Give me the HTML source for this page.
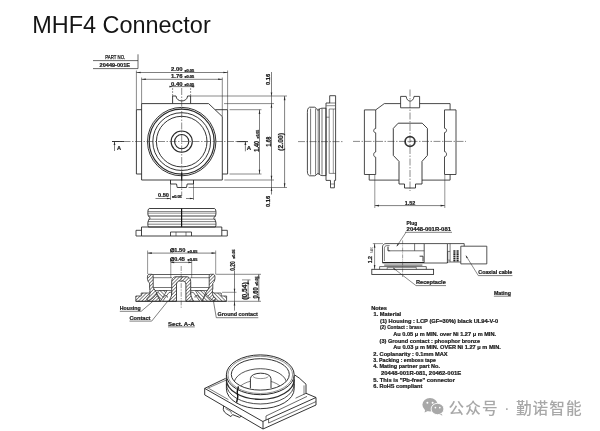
<!DOCTYPE html>
<html><head><meta charset="utf-8"><title>MHF4 Connector</title>
<style>
html,body{margin:0;padding:0;background:#fff;}
body{width:600px;height:431px;overflow:hidden;}
svg{display:block;font-family:"Liberation Sans",sans-serif;will-change:transform;}
</style></head><body>
<svg width="600" height="431" viewBox="0 0 600 431">
<rect width="600" height="431" fill="#fff"/>
<text x="32.2" y="32.8" font-size="24" fill="#151515" textLength="178.5" lengthAdjust="spacingAndGlyphs" font-weight="normal">MHF4 Connector</text>
<text x="105.3" y="59.2" font-size="5.2" font-weight="normal" fill="#1c1c1c" textLength="20" lengthAdjust="spacingAndGlyphs" stroke="#1c1c1c" stroke-width="0.25">PART NO.</text>
<line x1="93" y1="60.6" x2="138" y2="60.6" stroke="#2a2a2a" stroke-width="0.7"/>
<text x="99.6" y="67.2" font-size="5.4" font-weight="bold" fill="#1c1c1c" textLength="30.4" lengthAdjust="spacingAndGlyphs" stroke="#1c1c1c" stroke-width="0.22">20449-001E</text>
<line x1="93" y1="68.6" x2="138" y2="68.6" stroke="#2a2a2a" stroke-width="0.7"/>
<line x1="138" y1="54.3" x2="138" y2="68.6" stroke="#2a2a2a" stroke-width="0.7"/>
<line x1="136.4" y1="72.5" x2="227.6" y2="72.5" stroke="#2a2a2a" stroke-width="0.6"/>
<path d="M136.40 72.50L140.60 71.70L140.60 73.30Z" fill="#2a2a2a"/>
<path d="M227.60 72.50L223.40 73.30L223.40 71.70Z" fill="#2a2a2a"/>
<text x="171" y="71.2" font-size="5.6" font-weight="bold" fill="#1c1c1c" textLength="11.5" lengthAdjust="spacingAndGlyphs" stroke="#1c1c1c" stroke-width="0.22">2.00</text>
<text x="184.4" y="71.6" font-size="3.3" font-weight="bold" fill="#1c1c1c" textLength="9.8" lengthAdjust="spacingAndGlyphs" stroke="#1c1c1c" stroke-width="0.22">±0.05</text>
<line x1="141.6" y1="79.3" x2="222.3" y2="79.3" stroke="#2a2a2a" stroke-width="0.6"/>
<path d="M141.60 79.30L145.80 78.50L145.80 80.10Z" fill="#2a2a2a"/>
<path d="M222.30 79.30L218.10 80.10L218.10 78.50Z" fill="#2a2a2a"/>
<text x="171" y="78.2" font-size="5.6" font-weight="bold" fill="#1c1c1c" textLength="11.5" lengthAdjust="spacingAndGlyphs" stroke="#1c1c1c" stroke-width="0.22">1.76</text>
<text x="184.4" y="78.4" font-size="3.3" font-weight="bold" fill="#1c1c1c" textLength="9.8" lengthAdjust="spacingAndGlyphs" stroke="#1c1c1c" stroke-width="0.22">±0.05</text>
<line x1="170" y1="86.6" x2="194.5" y2="86.6" stroke="#2a2a2a" stroke-width="0.6"/>
<path d="M172.60 86.60L169.40 87.40L169.40 85.80Z" fill="#2a2a2a"/>
<path d="M190.60 86.60L193.80 85.80L193.80 87.40Z" fill="#2a2a2a"/>
<text x="171" y="86" font-size="5.6" font-weight="bold" fill="#1c1c1c" textLength="11.5" lengthAdjust="spacingAndGlyphs" stroke="#1c1c1c" stroke-width="0.22">0.40</text>
<text x="184.4" y="86.2" font-size="3.3" font-weight="bold" fill="#1c1c1c" textLength="9.8" lengthAdjust="spacingAndGlyphs" stroke="#1c1c1c" stroke-width="0.22">±0.05</text>
<line x1="136.4" y1="70.5" x2="136.4" y2="109.6" stroke="#2a2a2a" stroke-width="0.55"/>
<line x1="227.6" y1="70.5" x2="227.6" y2="109.6" stroke="#2a2a2a" stroke-width="0.55"/>
<line x1="141.6" y1="77.5" x2="141.6" y2="103.6" stroke="#2a2a2a" stroke-width="0.55"/>
<line x1="222.3" y1="77.5" x2="222.3" y2="116.6" stroke="#2a2a2a" stroke-width="0.55"/>
<line x1="172.6" y1="88" x2="172.6" y2="96" stroke="#2a2a2a" stroke-width="0.5" stroke-dasharray="2 1"/>
<line x1="190.6" y1="88" x2="190.6" y2="96" stroke="#2a2a2a" stroke-width="0.5" stroke-dasharray="2 1"/>
<path d="M141.6 103.6H208.6L222.3 116.6V180H141.6Z" stroke="#2a2a2a" stroke-width="0.9" fill="none" stroke-linejoin="round"/>
<path d="M141.6 109.7H136.4V174H141.6" stroke="#2a2a2a" stroke-width="0.9" fill="none" stroke-linejoin="round"/>
<path d="M215.3 109.7H227.6V174H222.3" stroke="#2a2a2a" stroke-width="0.9" fill="none" stroke-linejoin="round"/>
<path d="M172.6 103.6V96H176C176.4 102.6 187.2 102.6 187.6 96H190.6V103.6" stroke="#2a2a2a" stroke-width="0.9" fill="none" stroke-linejoin="round"/>
<path d="M170.5 180V184H176.5L177.2 187.5H186.5L187.2 184H193.5V180" stroke="#2a2a2a" stroke-width="0.9" fill="none" stroke-linejoin="round"/>
<circle cx="181.7" cy="141.6" r="34.2" stroke="#2a2a2a" stroke-width="0.95" fill="none"/>
<circle cx="181.7" cy="141.6" r="32.5" stroke="#2a2a2a" stroke-width="1.2" fill="none"/>
<circle cx="181.7" cy="141.6" r="28.9" stroke="#2a2a2a" stroke-width="0.95" fill="none"/>
<circle cx="181.7" cy="141.6" r="25.3" stroke="#2a2a2a" stroke-width="0.95" fill="none"/>
<circle cx="181.7" cy="141.6" r="10.6" stroke="#2a2a2a" stroke-width="1.15" fill="none"/>
<circle cx="181.7" cy="141.6" r="7.1" stroke="#2a2a2a" stroke-width="1.15" fill="none"/>
<line x1="112" y1="141.5" x2="247" y2="141.5" stroke="#2a2a2a" stroke-width="0.55" stroke-dasharray="7 1.5 1.5 1.5"/>
<line x1="181.7" y1="88" x2="181.7" y2="196" stroke="#2a2a2a" stroke-width="0.55" stroke-dasharray="7 1.5 1.5 1.5"/>
<line x1="181.7" y1="172.5" x2="181.7" y2="180.5" stroke="#111" stroke-width="1.2"/>
<line x1="112" y1="141.5" x2="124" y2="141.5" stroke="#2a2a2a" stroke-width="0.9"/>
<line x1="114.5" y1="141.5" x2="114.5" y2="151" stroke="#2a2a2a" stroke-width="0.6"/>
<path d="M114.50 141.50L115.40 145.10L113.60 145.10Z" fill="#2a2a2a"/>
<text x="117" y="150.3" font-size="5.6" font-weight="bold" fill="#1c1c1c" stroke="#1c1c1c" stroke-width="0.22">A</text>
<line x1="237" y1="141.6" x2="248" y2="141.6" stroke="#2a2a2a" stroke-width="0.9"/>
<line x1="245.4" y1="141.5" x2="245.4" y2="151.3" stroke="#2a2a2a" stroke-width="0.6"/>
<path d="M245.40 141.50L246.30 145.10L244.50 145.10Z" fill="#2a2a2a"/>
<text x="246.8" y="150.4" font-size="6" font-weight="bold" fill="#1c1c1c" stroke="#1c1c1c" stroke-width="0.22">A</text>
<line x1="170.5" y1="180" x2="170.5" y2="200" stroke="#2a2a2a" stroke-width="0.5"/>
<line x1="193.5" y1="180" x2="193.5" y2="200" stroke="#2a2a2a" stroke-width="0.5"/>
<line x1="155.5" y1="198.5" x2="170.5" y2="198.5" stroke="#2a2a2a" stroke-width="0.6"/>
<line x1="186" y1="198.5" x2="193.5" y2="198.5" stroke="#2a2a2a" stroke-width="0.6"/>
<path d="M193.50 198.50L189.90 199.30L189.90 197.70Z" fill="#2a2a2a"/>
<path d="M170.50 198.50L166.90 199.30L166.90 197.70Z" fill="#2a2a2a"/>
<text x="158" y="197.3" font-size="5.6" font-weight="bold" fill="#1c1c1c" textLength="11" lengthAdjust="spacingAndGlyphs" stroke="#1c1c1c" stroke-width="0.22">0.50</text>
<text x="172" y="198.2" font-size="3.3" font-weight="bold" fill="#1c1c1c" textLength="9.8" lengthAdjust="spacingAndGlyphs" stroke="#1c1c1c" stroke-width="0.22">±0.05</text>
<line x1="190.6" y1="96" x2="287" y2="96" stroke="#2a2a2a" stroke-width="0.55"/>
<line x1="224" y1="103.6" x2="274" y2="103.6" stroke="#2a2a2a" stroke-width="0.55"/>
<line x1="229.5" y1="109.7" x2="261.5" y2="109.7" stroke="#2a2a2a" stroke-width="0.55"/>
<line x1="229.5" y1="174" x2="261.5" y2="174" stroke="#2a2a2a" stroke-width="0.55"/>
<line x1="224.3" y1="180" x2="274" y2="180" stroke="#2a2a2a" stroke-width="0.55"/>
<line x1="188.5" y1="187.5" x2="287" y2="187.5" stroke="#2a2a2a" stroke-width="0.55"/>
<line x1="259.5" y1="109.7" x2="259.5" y2="174" stroke="#2a2a2a" stroke-width="0.6"/>
<path d="M259.50 109.70L260.30 113.90L258.70 113.90Z" fill="#2a2a2a"/>
<path d="M259.50 174.00L258.70 169.80L260.30 169.80Z" fill="#2a2a2a"/>
<text x="258.9" y="146.3" font-size="6.3" font-weight="bold" fill="#1c1c1c" text-anchor="middle" textLength="10.8" lengthAdjust="spacingAndGlyphs" transform="rotate(-90 258.9 146.3)" stroke="#1c1c1c" stroke-width="0.22">1.40</text>
<text x="258.6" y="134.2" font-size="3.3" font-weight="bold" fill="#1c1c1c" text-anchor="middle" textLength="8.6" lengthAdjust="spacingAndGlyphs" transform="rotate(-90 258.6 134.2)" stroke="#1c1c1c" stroke-width="0.22">±0.05</text>
<line x1="271.5" y1="72" x2="271.5" y2="194.5" stroke="#2a2a2a" stroke-width="0.6"/>
<path d="M271.50 103.60L272.30 107.80L270.70 107.80Z" fill="#2a2a2a"/>
<path d="M271.50 180.00L270.70 175.80L272.30 175.80Z" fill="#2a2a2a"/>
<path d="M271.50 96.00L270.70 92.40L272.30 92.40Z" fill="#2a2a2a"/>
<path d="M271.50 187.50L272.30 191.10L270.70 191.10Z" fill="#2a2a2a"/>
<text x="270.6" y="141.5" font-size="6.6" font-weight="bold" fill="#1c1c1c" text-anchor="middle" textLength="9.8" lengthAdjust="spacingAndGlyphs" transform="rotate(-90 270.6 141.5)" stroke="#1c1c1c" stroke-width="0.22">1.68</text>
<line x1="284.6" y1="96" x2="284.6" y2="187.5" stroke="#2a2a2a" stroke-width="0.6"/>
<path d="M284.60 96.00L285.40 100.20L283.80 100.20Z" fill="#2a2a2a"/>
<path d="M284.60 187.50L283.80 183.30L285.40 183.30Z" fill="#2a2a2a"/>
<text x="283.3" y="141.9" font-size="6.5" font-weight="bold" fill="#1c1c1c" text-anchor="middle" textLength="17.6" lengthAdjust="spacingAndGlyphs" transform="rotate(-90 283.3 141.9)" stroke="#1c1c1c" stroke-width="0.22">(2.00)</text>
<text x="270" y="79.4" font-size="5.4" font-weight="bold" fill="#1c1c1c" text-anchor="middle" textLength="11.2" lengthAdjust="spacingAndGlyphs" transform="rotate(-90 270 79.4)" stroke="#1c1c1c" stroke-width="0.22">0.16</text>
<text x="270" y="201.5" font-size="5.4" font-weight="bold" fill="#1c1c1c" text-anchor="middle" textLength="11.2" lengthAdjust="spacingAndGlyphs" transform="rotate(-90 270 201.5)" stroke="#1c1c1c" stroke-width="0.22">0.16</text>
<path d="M149.2 208.5H214.6C216.4 209 216.4 216 214.8 216.7C213.4 217.6 213.4 218.6 214.6 219.4C216.2 220.6 216.4 225.4 215.4 227H148.4C147.4 225.4 147.6 220.6 149.2 219.4C150.4 218.6 150.4 217.6 149 216.7C147.4 216 147.4 209 149.2 208.5Z" stroke="#2a2a2a" stroke-width="0.9" fill="none" stroke-linejoin="round"/>
<line x1="148" y1="211.6" x2="215.8" y2="211.6" stroke="#2a2a2a" stroke-width="0.6"/>
<line x1="148" y1="213.2" x2="215.8" y2="213.2" stroke="#2a2a2a" stroke-width="0.5"/>
<line x1="148" y1="216" x2="215.8" y2="216" stroke="#2a2a2a" stroke-width="0.9"/>
<line x1="148" y1="219.2" x2="215.8" y2="219.2" stroke="#2a2a2a" stroke-width="0.6"/>
<line x1="148" y1="221.6" x2="215.8" y2="221.6" stroke="#2a2a2a" stroke-width="0.6"/>
<line x1="148" y1="224.2" x2="215.8" y2="224.2" stroke="#2a2a2a" stroke-width="0.6"/>
<line x1="181.6" y1="208.5" x2="181.6" y2="227" stroke="#111" stroke-width="1.2"/>
<path d="M141.5 227H221.8V236H141.5Z" stroke="#2a2a2a" stroke-width="0.9" fill="none" stroke-linejoin="round"/>
<path d="M141.5 230.3H136V236H141.5" stroke="#2a2a2a" stroke-width="0.85" fill="none" stroke-linejoin="round"/>
<path d="M221.8 230.3H227.3V236H221.8" stroke="#2a2a2a" stroke-width="0.85" fill="none" stroke-linejoin="round"/>
<path d="M170.5 236V232H191.5V236" stroke="#2a2a2a" stroke-width="0.85" fill="none" stroke-linejoin="round"/>
<line x1="176" y1="232" x2="176" y2="236" stroke="#2a2a2a" stroke-width="0.6"/>
<line x1="186" y1="232" x2="186" y2="236" stroke="#2a2a2a" stroke-width="0.6"/>
<path d="M309.6 107.2C307.4 108 307.4 110.6 307.4 112.6V170.4C307.4 172.6 307.4 175 309.6 175.8H314.6C315.8 175.6 316.4 174.8 317 174C317.8 173.2 318.4 173.4 319.2 174.2C320 175 321 175.6 322 175.6H326V108.2H322C321 108.2 320 108.6 319.2 109.4C318.4 110.2 317.8 110.4 317 109.6C316.4 108.6 315.8 107.4 314.6 107.2Z" stroke="#2a2a2a" stroke-width="0.85" fill="none" stroke-linejoin="round"/>
<line x1="310.6" y1="108.6" x2="310.6" y2="174.6" stroke="#2a2a2a" stroke-width="0.65"/>
<line x1="315.6" y1="108.6" x2="315.6" y2="174.6" stroke="#2a2a2a" stroke-width="0.65"/>
<line x1="318.2" y1="108.6" x2="318.2" y2="174.6" stroke="#2a2a2a" stroke-width="0.65"/>
<line x1="319.5" y1="108.6" x2="319.5" y2="174.6" stroke="#2a2a2a" stroke-width="0.65"/>
<line x1="322" y1="108.6" x2="322" y2="174.6" stroke="#2a2a2a" stroke-width="0.65"/>
<path d="M326 103H329.7V95.7H335.6V180.4H334.4V187.8H330.5V180.4H326Z" stroke="#2a2a2a" stroke-width="0.85" fill="none" stroke-linejoin="round"/>
<line x1="329.4" y1="103" x2="335.6" y2="103" stroke="#2a2a2a" stroke-width="0.6"/>
<line x1="326.3" y1="105.7" x2="335" y2="105.7" stroke="#2a2a2a" stroke-width="0.55"/>
<line x1="326" y1="117.2" x2="329.2" y2="117.2" stroke="#2a2a2a" stroke-width="0.55"/>
<line x1="329.2" y1="109" x2="329.2" y2="173.4" stroke="#2a2a2a" stroke-width="0.6"/>
<line x1="329.2" y1="109" x2="335.6" y2="109" stroke="#2a2a2a" stroke-width="0.55"/>
<line x1="333.3" y1="109" x2="333.3" y2="173.4" stroke="#2a2a2a" stroke-width="0.5"/>
<line x1="329.2" y1="173.4" x2="335.6" y2="173.4" stroke="#2a2a2a" stroke-width="0.55"/>
<line x1="330.5" y1="184" x2="334.4" y2="184" stroke="#2a2a2a" stroke-width="0.55"/>
<line x1="298" y1="141.6" x2="343" y2="141.6" stroke="#2a2a2a" stroke-width="0.55" stroke-dasharray="7 1.5 1.5 1.5"/>
<path d="M400.6 103.6H384.3L375.7 109.9" stroke="#2a2a2a" stroke-width="0.85" fill="none" stroke-linejoin="round"/>
<path d="M419.6 103.6H450.1V109.9" stroke="#2a2a2a" stroke-width="0.85" fill="none" stroke-linejoin="round"/>
<path d="M375.7 109.9H364.4V174.5H375.7V157.2C373 157 373 152.2 375.7 152V132.8C373 132.6 373 128.7 375.7 128.5Z" stroke="#2a2a2a" stroke-width="0.85" fill="none" stroke-linejoin="round"/>
<path d="M444.5 109.9H456V174.5H444.5V156.8C447.2 156.6 447.2 151.8 444.5 151.6V132.6C447.2 132.4 447.2 128.4 444.5 128.2Z" stroke="#2a2a2a" stroke-width="0.85" fill="none" stroke-linejoin="round"/>
<path d="M369.2 174.5V180.1H399" stroke="#2a2a2a" stroke-width="0.85" fill="none" stroke-linejoin="round"/>
<path d="M450.1 174.5V180.1H422" stroke="#2a2a2a" stroke-width="0.85" fill="none" stroke-linejoin="round"/>
<path d="M400.6 107.8V96.4H406.2C406.6 102.6 413.6 102.6 414 96.4H419.6V107.8Z" stroke="#2a2a2a" stroke-width="0.85" fill="none" stroke-linejoin="round"/>
<path d="M398.2 123.2H422.2L427.4 128.4V155.4L422 161.4V184H415.5V188H404.5V184H399V161.4L393.3 155.4V128.4Z" stroke="#2a2a2a" stroke-width="0.9" fill="none" stroke-linejoin="round"/>
<circle cx="410" cy="141.5" r="4.9" stroke="#333" stroke-width="1.7" fill="none"/>
<line x1="408.8" y1="142.20000000000002" x2="411.4" y2="140.8" stroke="#2a2a2a" stroke-width="0.6"/>
<line x1="353" y1="141.4" x2="466" y2="141.4" stroke="#2a2a2a" stroke-width="0.55" stroke-dasharray="7 1.5 1.5 1.5"/>
<line x1="410" y1="89.5" x2="410" y2="191" stroke="#2a2a2a" stroke-width="0.55" stroke-dasharray="7 1.5 1.5 1.5"/>
<line x1="374.8" y1="175" x2="374.8" y2="208" stroke="#2a2a2a" stroke-width="0.5"/>
<line x1="444.8" y1="175" x2="444.8" y2="208" stroke="#2a2a2a" stroke-width="0.5"/>
<line x1="374.8" y1="205.6" x2="444.8" y2="205.6" stroke="#2a2a2a" stroke-width="0.6"/>
<path d="M374.80 205.60L379.00 204.80L379.00 206.40Z" fill="#2a2a2a"/>
<path d="M444.80 205.60L440.60 206.40L440.60 204.80Z" fill="#2a2a2a"/>
<text x="404.8" y="205" font-size="5.8" font-weight="bold" fill="#1c1c1c" textLength="10.6" lengthAdjust="spacingAndGlyphs" stroke="#1c1c1c" stroke-width="0.22">1.52</text>
<defs><pattern id="h1" width="2.4" height="2.4" patternUnits="userSpaceOnUse" patternTransform="rotate(-45)"><rect width="2.4" height="2.4" fill="#fff"/><line x1="0" y1="1.2" x2="2.4" y2="1.2" stroke="#3a3a3a" stroke-width="0.6"/></pattern><pattern id="h2" width="2.6" height="2.6" patternUnits="userSpaceOnUse" patternTransform="rotate(45)"><rect width="2.6" height="2.6" fill="#fff"/><line x1="0" y1="1.3" x2="2.6" y2="1.3" stroke="#3a3a3a" stroke-width="0.6"/></pattern></defs>
<path d="M135.8 296H141.2V293H148.5L153.2 288.5L160.5 301.3H135.8Z" stroke="#2a2a2a" stroke-width="0.75" fill="url(#h1)" stroke-linejoin="round"/>
<path d="M148.6 274.3H152.2C153.4 274.7 153.2 276 153.2 277V287.6L156.8 293C155 296.4 152 300 147.5 300.8L146.8 298.6C149.6 297 150.8 292.8 149.6 288.8V283.2C147 281.5 146.8 275.2 148.6 274.3Z" stroke="#2a2a2a" stroke-width="0.8" fill="url(#h1)" stroke-linejoin="round"/>
<line x1="153.2" y1="287.5" x2="171.7" y2="287.5" stroke="#2a2a2a" stroke-width="0.65"/>
<line x1="155" y1="290.5" x2="171.7" y2="290.5" stroke="#2a2a2a" stroke-width="0.65"/>
<path d="M156.8 293L159 290.6H167L160.5 301.3Z" stroke="#2a2a2a" stroke-width="0.7" fill="url(#h2)" stroke-linejoin="round"/>
<path d="M162.5 301.3L169 292.5L171.7 292V296C171.4 298 170 299.6 169 301.3Z" stroke="#2a2a2a" stroke-width="0.7" fill="#fff" stroke-linejoin="round"/>
<path d="M163.4 297.6C164 295 167.6 294.6 167.4 297.6" stroke="#2a2a2a" stroke-width="0.8" fill="none" stroke-linejoin="round"/>
<path d="M226.6 296H221.2V293H213.9L209.2 288.5L201.9 301.3H226.6Z" stroke="#2a2a2a" stroke-width="0.75" fill="url(#h2)" stroke-linejoin="round"/>
<path d="M213.8 274.3H210.2C209.0 274.7 209.2 276 209.2 277V287.6L205.6 293C207.4 296.4 210.4 300 214.9 300.8L215.6 298.6C212.8 297 211.6 292.8 212.8 288.8V283.2C215.4 281.5 215.6 275.2 213.8 274.3Z" stroke="#2a2a2a" stroke-width="0.8" fill="url(#h1)" stroke-linejoin="round"/>
<line x1="209.2" y1="287.5" x2="190.7" y2="287.5" stroke="#2a2a2a" stroke-width="0.65"/>
<line x1="207.4" y1="290.5" x2="190.7" y2="290.5" stroke="#2a2a2a" stroke-width="0.65"/>
<path d="M205.6 293L203.4 290.6H195.4L201.9 301.3Z" stroke="#2a2a2a" stroke-width="0.7" fill="url(#h2)" stroke-linejoin="round"/>
<path d="M199.9 301.3L193.4 292.5L190.7 292V296C191.0 298 192.4 299.6 193.4 301.3Z" stroke="#2a2a2a" stroke-width="0.7" fill="#fff" stroke-linejoin="round"/>
<path d="M199.0 297.6C198.4 295 194.8 294.6 195.0 297.6" stroke="#2a2a2a" stroke-width="0.8" fill="none" stroke-linejoin="round"/>
<line x1="152.5" y1="274.5" x2="209.9" y2="274.5" stroke="#2a2a2a" stroke-width="0.75"/>
<line x1="153.2" y1="277.7" x2="172" y2="277.7" stroke="#2a2a2a" stroke-width="0.6"/>
<line x1="190.4" y1="277.7" x2="209.2" y2="277.7" stroke="#2a2a2a" stroke-width="0.6"/>
<path d="M175.2 276.8H187.2C189.8 277.2 190.7 279.4 190.7 281.6V294C190.7 296.4 192.4 298.6 193.4 301.3H185.9V284.2C185.7 282.2 184.4 281 183.0 281H179.4C178 281 176.7 282.2 176.5 284.2V301.3H169C170 298.6 171.7 296.4 171.7 294V281.6C171.7 279.4 172.6 277.2 175.2 276.8Z" stroke="#2a2a2a" stroke-width="0.85" fill="url(#h1)" stroke-linejoin="round"/>
<line x1="135.8" y1="301.3" x2="226.6" y2="301.3" stroke="#2a2a2a" stroke-width="0.85"/>
<line x1="181.2" y1="266" x2="181.2" y2="309" stroke="#2a2a2a" stroke-width="0.5" stroke-dasharray="5 1.2 1.2 1.2"/>
<line x1="147.6" y1="250.5" x2="147.6" y2="274" stroke="#2a2a2a" stroke-width="0.5"/>
<line x1="215.7" y1="250.5" x2="215.7" y2="274" stroke="#2a2a2a" stroke-width="0.5"/>
<line x1="147.6" y1="253.1" x2="215.7" y2="253.1" stroke="#2a2a2a" stroke-width="0.6"/>
<path d="M147.60 253.10L151.80 252.30L151.80 253.90Z" fill="#2a2a2a"/>
<path d="M215.70 253.10L211.50 253.90L211.50 252.30Z" fill="#2a2a2a"/>
<text x="170.1" y="251.9" font-size="5.4" font-weight="bold" fill="#1c1c1c" textLength="15.2" lengthAdjust="spacingAndGlyphs" stroke="#1c1c1c" stroke-width="0.22">∅1.50</text>
<text x="187.6" y="252.5" font-size="3.3" font-weight="bold" fill="#1c1c1c" textLength="9.8" lengthAdjust="spacingAndGlyphs" stroke="#1c1c1c" stroke-width="0.22">±0.05</text>
<line x1="170.8" y1="259.5" x2="170.8" y2="278" stroke="#2a2a2a" stroke-width="0.5"/>
<line x1="191.7" y1="259.5" x2="191.7" y2="278" stroke="#2a2a2a" stroke-width="0.5"/>
<line x1="170.8" y1="262.4" x2="191.8" y2="262.4" stroke="#2a2a2a" stroke-width="0.6"/>
<path d="M170.80 262.40L174.20 261.60L174.20 263.20Z" fill="#2a2a2a"/>
<path d="M191.80 262.40L188.40 263.20L188.40 261.60Z" fill="#2a2a2a"/>
<text x="170.1" y="261.4" font-size="5.4" font-weight="bold" fill="#1c1c1c" textLength="14.8" lengthAdjust="spacingAndGlyphs" stroke="#1c1c1c" stroke-width="0.22">∅0.45</text>
<text x="187.6" y="261.2" font-size="3.3" font-weight="bold" fill="#1c1c1c" textLength="9.8" lengthAdjust="spacingAndGlyphs" stroke="#1c1c1c" stroke-width="0.22">±0.05</text>
<line x1="215.5" y1="274.3" x2="261" y2="274.3" stroke="#2a2a2a" stroke-width="0.55"/>
<line x1="242" y1="279.9" x2="250.5" y2="279.9" stroke="#2a2a2a" stroke-width="0.5"/>
<line x1="222" y1="292.3" x2="236.5" y2="292.3" stroke="#2a2a2a" stroke-width="0.5"/>
<line x1="242" y1="297.6" x2="250.5" y2="297.6" stroke="#2a2a2a" stroke-width="0.5"/>
<line x1="227.5" y1="301.3" x2="261" y2="301.3" stroke="#2a2a2a" stroke-width="0.55"/>
<line x1="234.5" y1="270.6" x2="234.5" y2="310.6" stroke="#2a2a2a" stroke-width="0.6"/>
<path d="M234.50 292.30L233.70 288.70L235.30 288.70Z" fill="#2a2a2a"/>
<path d="M234.50 301.30L235.30 305.50L233.70 305.50Z" fill="#2a2a2a"/>
<text x="235.2" y="266" font-size="6.3" font-weight="bold" fill="#1c1c1c" text-anchor="middle" textLength="9.4" lengthAdjust="spacingAndGlyphs" transform="rotate(-90 235.2 266)" stroke="#1c1c1c" stroke-width="0.22">0.20</text>
<text x="234.6" y="254" font-size="3.3" font-weight="bold" fill="#1c1c1c" text-anchor="middle" textLength="9.4" lengthAdjust="spacingAndGlyphs" transform="rotate(-90 234.6 254)" stroke="#1c1c1c" stroke-width="0.22">±0.05</text>
<line x1="248.1" y1="279.9" x2="248.1" y2="297.6" stroke="#2a2a2a" stroke-width="0.6"/>
<path d="M248.10 279.90L248.90 284.10L247.30 284.10Z" fill="#2a2a2a"/>
<path d="M248.10 297.60L247.30 293.40L248.90 293.40Z" fill="#2a2a2a"/>
<text x="246.9" y="291" font-size="6.3" font-weight="bold" fill="#1c1c1c" text-anchor="middle" textLength="17.4" lengthAdjust="spacingAndGlyphs" transform="rotate(-90 246.9 291)" stroke="#1c1c1c" stroke-width="0.22">(0.54)</text>
<line x1="258.8" y1="274.3" x2="258.8" y2="301.3" stroke="#2a2a2a" stroke-width="0.6"/>
<path d="M258.80 274.30L259.60 278.50L258.00 278.50Z" fill="#2a2a2a"/>
<path d="M258.80 301.30L258.00 297.10L259.60 297.10Z" fill="#2a2a2a"/>
<text x="257.8" y="293" font-size="6.3" font-weight="bold" fill="#1c1c1c" text-anchor="middle" textLength="11.2" lengthAdjust="spacingAndGlyphs" transform="rotate(-90 257.8 293)" stroke="#1c1c1c" stroke-width="0.22">0.60</text>
<text x="257.6" y="281" font-size="3.3" font-weight="bold" fill="#1c1c1c" text-anchor="middle" textLength="9.4" lengthAdjust="spacingAndGlyphs" transform="rotate(-90 257.6 281)" stroke="#1c1c1c" stroke-width="0.22">±0.05</text>
<text x="119.8" y="309.8" font-size="5.8" font-weight="bold" fill="#1c1c1c" textLength="20.8" lengthAdjust="spacingAndGlyphs" stroke="#1c1c1c" stroke-width="0.22">Housing</text>
<line x1="119.8" y1="311.3" x2="141.2" y2="311.3" stroke="#2a2a2a" stroke-width="0.6"/>
<line x1="141.2" y1="311.3" x2="152.6" y2="301.6" stroke="#2a2a2a" stroke-width="0.6"/>
<text x="129.5" y="319.8" font-size="5.8" font-weight="bold" fill="#1c1c1c" textLength="21" lengthAdjust="spacingAndGlyphs" stroke="#1c1c1c" stroke-width="0.22">Contact</text>
<line x1="129.5" y1="321.1" x2="151.7" y2="321.1" stroke="#2a2a2a" stroke-width="0.6"/>
<line x1="151.7" y1="321.1" x2="168.4" y2="300.4" stroke="#2a2a2a" stroke-width="0.6"/>
<text x="217.5" y="316.4" font-size="5.7" font-weight="bold" fill="#1c1c1c" textLength="40.4" lengthAdjust="spacingAndGlyphs" stroke="#1c1c1c" stroke-width="0.22">Ground contact</text>
<line x1="216.3" y1="317.7" x2="258.3" y2="317.7" stroke="#2a2a2a" stroke-width="0.6"/>
<line x1="216.3" y1="317.7" x2="213.4" y2="300.8" stroke="#2a2a2a" stroke-width="0.6"/>
<text x="168" y="325.6" font-size="5.6" font-weight="bold" fill="#1c1c1c" textLength="26.6" lengthAdjust="spacingAndGlyphs" stroke="#1c1c1c" stroke-width="0.22">Sect. A-A</text>
<line x1="168" y1="326.9" x2="194.8" y2="326.9" stroke="#2a2a2a" stroke-width="0.6"/>
<text x="406.6" y="225.2" font-size="5.6" font-weight="bold" fill="#1c1c1c" textLength="10.6" lengthAdjust="spacingAndGlyphs" stroke="#1c1c1c" stroke-width="0.22">Plug</text>
<text x="406.6" y="231.2" font-size="5.4" font-weight="bold" fill="#1c1c1c" textLength="44.4" lengthAdjust="spacingAndGlyphs" stroke="#1c1c1c" stroke-width="0.22">20448-001R-081</text>
<line x1="405" y1="232.3" x2="452" y2="232.3" stroke="#2a2a2a" stroke-width="0.6"/>
<line x1="406" y1="232.3" x2="396.8" y2="246.2" stroke="#2a2a2a" stroke-width="0.55"/>
<path d="M396.60 246.60L397.67 243.71L398.84 244.49Z" fill="#2a2a2a"/>
<path d="M386 243.6H424.2V262.6H382.5V247C382.5 245 384 243.6 386 243.6Z" stroke="#2a2a2a" stroke-width="0.8" fill="none" stroke-linejoin="round"/>
<path d="M384.4 261V248.4C384.4 246.6 385.4 245.6 387 245.6H389.6" stroke="#2a2a2a" stroke-width="0.6" fill="none" stroke-linejoin="round"/>
<path d="M388 246.6V250.8H390.4" stroke="#2a2a2a" stroke-width="1.0" fill="none" stroke-linejoin="round"/>
<line x1="390.4" y1="250.8" x2="424.2" y2="250.8" stroke="#2a2a2a" stroke-width="0.65"/>
<line x1="414.6" y1="243.6" x2="414.6" y2="250.8" stroke="#2a2a2a" stroke-width="0.65"/>
<path d="M419.6 256.2H423V261.4" stroke="#2a2a2a" stroke-width="0.9" fill="none" stroke-linejoin="round"/>
<line x1="382.5" y1="262.7" x2="424.2" y2="262.7" stroke="#111" stroke-width="1.1"/>
<line x1="384.2" y1="265.1" x2="422.4" y2="265.1" stroke="#222" stroke-width="0.8"/>
<line x1="402.6" y1="240.4" x2="402.6" y2="277" stroke="#2a2a2a" stroke-width="0.45" stroke-dasharray="4 1 1 1"/>
<path d="M424.2 243.6H447.4V263H424.2" stroke="#2a2a2a" stroke-width="0.8" fill="none" stroke-linejoin="round"/>
<path d="M447.4 243.6H464.2V246.2" stroke="#2a2a2a" stroke-width="0.8" fill="none" stroke-linejoin="round"/>
<path d="M447.4 263V262H460.8" stroke="#2a2a2a" stroke-width="0.7" fill="none" stroke-linejoin="round"/>
<line x1="450.1" y1="243.6" x2="450.1" y2="262" stroke="#2a2a2a" stroke-width="0.6"/>
<path d="M450.1 251.4H447.8V260.2H450.1" stroke="#2a2a2a" stroke-width="0.6" fill="none" stroke-linejoin="round"/>
<line x1="454.4" y1="250.2" x2="454.4" y2="262" stroke="#222" stroke-width="2.1" stroke-dasharray="1.5 0.45"/>
<line x1="457.6" y1="250.2" x2="457.6" y2="262" stroke="#222" stroke-width="2.1" stroke-dasharray="1.5 0.45"/>
<path d="M460.8 246.2H486.8V263.9H460.8Z" stroke="#2a2a2a" stroke-width="0.8" fill="none" stroke-linejoin="round"/>
<path d="M379.6 269.3V266.6H426.3V269.3" stroke="#2a2a2a" stroke-width="0.7" fill="none" stroke-linejoin="round"/>
<path d="M387.2 269.3V267.4H416.3V269.3" stroke="#2a2a2a" stroke-width="0.55" fill="none" stroke-linejoin="round"/>
<rect x="371.8" y="269.3" width="61.8" height="5.1" stroke="#2a2a2a" stroke-width="0.85" fill="none"/>
<line x1="372.8" y1="243.6" x2="383" y2="243.6" stroke="#2a2a2a" stroke-width="0.5"/>
<line x1="374.6" y1="243.6" x2="374.6" y2="269.3" stroke="#2a2a2a" stroke-width="0.55"/>
<path d="M374.60 243.60L375.40 247.80L373.80 247.80Z" fill="#2a2a2a"/>
<path d="M374.60 269.30L373.80 265.10L375.40 265.10Z" fill="#2a2a2a"/>
<text x="372.4" y="259.6" font-size="5.6" font-weight="bold" fill="#1c1c1c" text-anchor="middle" textLength="7.4" lengthAdjust="spacingAndGlyphs" transform="rotate(-90 372.4 259.6)" stroke="#1c1c1c" stroke-width="0.22">1.2</text>
<text x="372.6" y="250" font-size="2.6" font-weight="normal" fill="#1c1c1c" text-anchor="middle" transform="rotate(-90 372.6 250)">MAX</text>
<text x="478.3" y="274.2" font-size="5.4" font-weight="bold" fill="#1c1c1c" textLength="34" lengthAdjust="spacingAndGlyphs" stroke="#1c1c1c" stroke-width="0.22">Coaxial cable</text>
<line x1="478.3" y1="275.6" x2="512.4" y2="275.6" stroke="#2a2a2a" stroke-width="0.6"/>
<line x1="478.3" y1="275.6" x2="466" y2="255.8" stroke="#2a2a2a" stroke-width="0.55"/>
<path d="M465.70 255.30L467.81 257.54L466.60 258.25Z" fill="#2a2a2a"/>
<text x="416" y="284.2" font-size="5.4" font-weight="bold" fill="#1c1c1c" textLength="29.8" lengthAdjust="spacingAndGlyphs" stroke="#1c1c1c" stroke-width="0.22">Receptacle</text>
<line x1="416" y1="285.6" x2="446" y2="285.6" stroke="#2a2a2a" stroke-width="0.6"/>
<line x1="416" y1="285.6" x2="393.2" y2="268" stroke="#2a2a2a" stroke-width="0.55"/>
<path d="M393.00 267.80L395.77 269.14L394.89 270.23Z" fill="#2a2a2a"/>
<text x="493.9" y="294.8" font-size="5.4" font-weight="bold" fill="#1c1c1c" textLength="17" lengthAdjust="spacingAndGlyphs" stroke="#1c1c1c" stroke-width="0.22">Mating</text>
<line x1="493.9" y1="296.2" x2="511" y2="296.2" stroke="#2a2a2a" stroke-width="0.6"/>
<text x="371.2" y="309.9" font-size="5.5" font-weight="bold" fill="#1c1c1c" textLength="15.8" lengthAdjust="spacingAndGlyphs" stroke="#1c1c1c" stroke-width="0.22">Notes</text>
<text x="373.6" y="316.2" font-size="5.5" font-weight="bold" fill="#1c1c1c" textLength="27.6" lengthAdjust="spacingAndGlyphs" stroke="#1c1c1c" stroke-width="0.22">1. Material</text>
<text x="380" y="322.8" font-size="5.5" font-weight="bold" fill="#1c1c1c" textLength="118.1" lengthAdjust="spacingAndGlyphs" stroke="#1c1c1c" stroke-width="0.22">(1) Housing : LCP (GF=30%) black UL94-V-0</text>
<text x="380" y="329.4" font-size="5.5" font-weight="bold" fill="#1c1c1c" textLength="41.9" lengthAdjust="spacingAndGlyphs" stroke="#1c1c1c" stroke-width="0.22">(2) Contact : brass</text>
<text x="393.3" y="336" font-size="5.5" font-weight="bold" fill="#1c1c1c" textLength="102.7" lengthAdjust="spacingAndGlyphs" stroke="#1c1c1c" stroke-width="0.22">Au 0.05 μ m MIN. over Ni 1.27 μ m MIN.</text>
<text x="379.6" y="342.5" font-size="5.5" font-weight="bold" fill="#1c1c1c" textLength="100.4" lengthAdjust="spacingAndGlyphs" stroke="#1c1c1c" stroke-width="0.22">(3) Ground contact : phosphor bronze</text>
<text x="393.3" y="349.4" font-size="5.5" font-weight="bold" fill="#1c1c1c" textLength="107.5" lengthAdjust="spacingAndGlyphs" stroke="#1c1c1c" stroke-width="0.22">Au 0.03 μ m MIN. OVER Ni 1.27 μ m MIN.</text>
<text x="373.3" y="356" font-size="5.5" font-weight="bold" fill="#1c1c1c" textLength="74.2" lengthAdjust="spacingAndGlyphs" stroke="#1c1c1c" stroke-width="0.22">2. Coplanarity : 0.1mm MAX</text>
<text x="373.3" y="362.3" font-size="5.5" font-weight="bold" fill="#1c1c1c" textLength="62.6" lengthAdjust="spacingAndGlyphs" stroke="#1c1c1c" stroke-width="0.22">3. Packing : emboss tape</text>
<text x="373.3" y="368.3" font-size="5.5" font-weight="bold" fill="#1c1c1c" textLength="66.7" lengthAdjust="spacingAndGlyphs" stroke="#1c1c1c" stroke-width="0.22">4. Mating partner part No.</text>
<text x="381" y="374.8" font-size="5.5" font-weight="bold" fill="#1c1c1c" textLength="80.2" lengthAdjust="spacingAndGlyphs" stroke="#1c1c1c" stroke-width="0.22">20448-001R-081, 20462-001E</text>
<text x="373.3" y="381.6" font-size="5.5" font-weight="bold" fill="#1c1c1c" textLength="81.6" lengthAdjust="spacingAndGlyphs" stroke="#1c1c1c" stroke-width="0.22">5. This is "Pb-free" connector</text>
<text x="373.3" y="388.1" font-size="5.5" font-weight="bold" fill="#1c1c1c" textLength="49" lengthAdjust="spacingAndGlyphs" stroke="#1c1c1c" stroke-width="0.22">6. RoHS compliant</text>
<path d="M204.7 388.4V394.9L263 429V421.6L204.7 388.4" stroke="#2a2a2a" stroke-width="0.95" fill="none" stroke-linejoin="round"/>
<path d="M204.7 388.4L225.6 378.4" stroke="#2a2a2a" stroke-width="0.95" fill="none" stroke-linejoin="round"/>
<path d="M207.4 388.4L226.4 380" stroke="#2a2a2a" stroke-width="0.6" fill="none" stroke-linejoin="round"/>
<path d="M208.4 388.2L228.4 399.6" stroke="#2a2a2a" stroke-width="0.6" fill="none" stroke-linejoin="round"/>
<path d="M223.6 405.8L223.3 409.5Q224 412.4 226.3 413.6L230.9 416.6L232.6 414.6L239.7 417.4Q241.4 416.4 240.9 415.6" stroke="#2a2a2a" stroke-width="0.95" fill="none" stroke-linejoin="round"/>
<path d="M225.6 408.6L231 411.6L231.4 413.8" stroke="#2a2a2a" stroke-width="0.6" fill="none" stroke-linejoin="round"/>
<path d="M263 421.4L316 397.5V405L263 429" stroke="#2a2a2a" stroke-width="0.95" fill="none" stroke-linejoin="round"/>
<path d="M268.6 423L316 401.6" stroke="#2a2a2a" stroke-width="0.7" fill="none" stroke-linejoin="round"/>
<path d="M266 416L307 396.4" stroke="#2a2a2a" stroke-width="0.7" fill="none" stroke-linejoin="round"/>
<path d="M266 416V420M268.6 418.8V423" stroke="#2a2a2a" stroke-width="0.7" fill="none" stroke-linejoin="round"/>
<path d="M295 375.2L299.2 378L306 384.2V393.3L316 397.5" stroke="#2a2a2a" stroke-width="0.95" fill="none" stroke-linejoin="round"/>
<path d="M304 385.4V394.6" stroke="#2a2a2a" stroke-width="0.6" fill="none" stroke-linejoin="round"/>
<path d="M306 393.3L295.6 398.2" stroke="#2a2a2a" stroke-width="0.7" fill="none" stroke-linejoin="round"/>
<path d="M226.4 374.8V388.8A33.9 19.9 0 0 0 294.2 388.8V374.8Z" fill="#fff" stroke="none"/>
<path d="M226.4 379.40000000000003A33.9 19.9 0 0 0 294.2 379.40000000000003" fill="none" stroke="#2a2a2a" stroke-width="1.3"/>
<path d="M226.4 384.1A33.9 19.9 0 0 0 294.2 384.1" fill="none" stroke="#2a2a2a" stroke-width="0.85"/>
<path d="M226.4 388.8A33.9 19.9 0 0 0 294.2 388.8" fill="none" stroke="#2a2a2a" stroke-width="0.95"/>
<line x1="226.4" y1="374.8" x2="226.4" y2="388.8" stroke="#2a2a2a" stroke-width="0.95"/>
<line x1="294.2" y1="374.8" x2="294.2" y2="388.8" stroke="#2a2a2a" stroke-width="0.95"/>
<ellipse cx="260.3" cy="374.8" rx="33.9" ry="19.9" stroke="#2a2a2a" stroke-width="1.0" fill="#fff"/>
<ellipse cx="260.3" cy="374.90000000000003" rx="32.3" ry="18.6" stroke="#2a2a2a" stroke-width="0.5" fill="none"/>
<clipPath id="inr"><ellipse cx="260.3" cy="374.4" rx="29" ry="15.7"/></clipPath>
<ellipse cx="260.3" cy="374.4" rx="29" ry="15.7" stroke="#2a2a2a" stroke-width="0.95" fill="#fff"/>
<g clip-path="url(#inr)"><ellipse cx="260.3" cy="384" rx="26.4" ry="15.3" fill="none" stroke="#2a2a2a" stroke-width="0.8"/><ellipse cx="260.3" cy="393" rx="23.5" ry="13" fill="none" stroke="#2a2a2a" stroke-width="0.6"/></g>
<path d="M250.4 388.4V378.6C250.4 371.4 271 371.4 271 378.6V388.4" stroke="#2a2a2a" stroke-width="0.95" fill="#fff" stroke-linejoin="round"/>
<path d="M253 376.4A8 3 0 0 0 268.4 376.4" fill="none" stroke="#2a2a2a" stroke-width="0.5"/>
<path d="M238.4 386.4L237.2 392L237.8 396.6L236.6 402.6" stroke="#111" stroke-width="1.4" fill="none" stroke-linejoin="round"/>
<g fill="#a8a8a8"><path d="M425.2 409.6L424.6 412.6L427.8 411Z"/><ellipse cx="430" cy="404.8" rx="7.6" ry="6.7"/><path d="M441 413.2L442.6 415.4L439 414.4Z"/><ellipse cx="437.5" cy="409" rx="6.4" ry="5.7" stroke="#fff" stroke-width="0.9"/><circle cx="427.4" cy="402.8" r="1" fill="#fff"/><circle cx="432.6" cy="402.8" r="1" fill="#fff"/><circle cx="435.4" cy="407.6" r="0.85" fill="#fff"/><circle cx="439.8" cy="407.6" r="0.85" fill="#fff"/></g>
<text x="448.6" y="414.2" font-size="15.6" font-weight="500" fill="#a8a8a8" font-family='"Liberation Sans","Noto Sans CJK SC",sans-serif' textLength="133" lengthAdjust="spacing">公众号 · 勤诺智能</text>
</svg>
</body></html>
